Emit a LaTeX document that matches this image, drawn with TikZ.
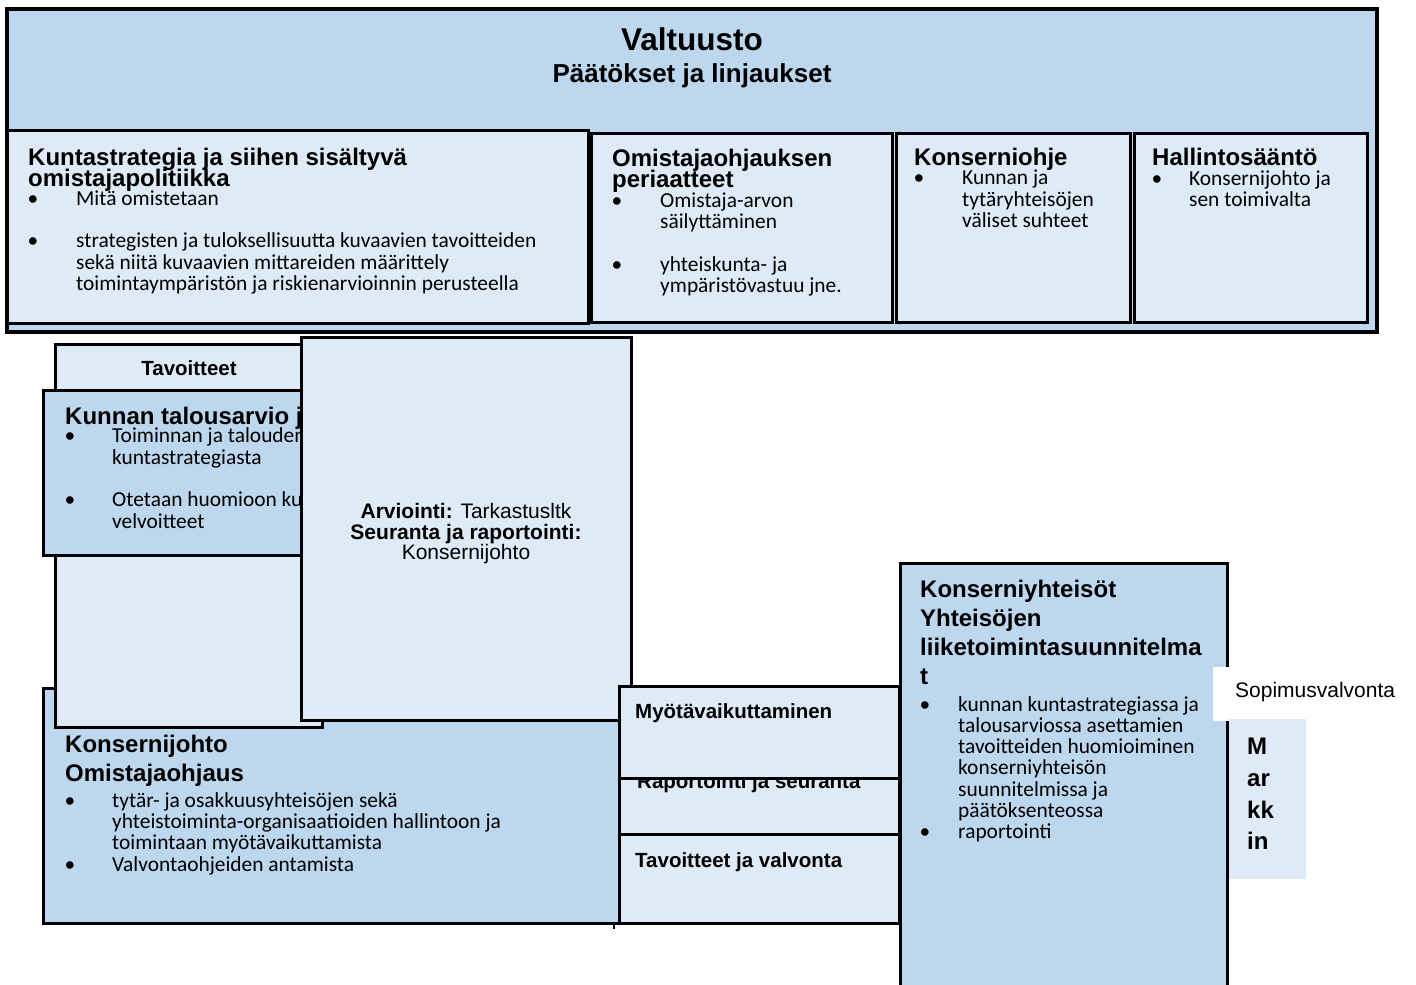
\documentclass[tikz,border=0pt]{standalone}
\usepackage{fontspec}
\setmainfont{Liberation Sans}
\newfontfamily\calib{Carlito}
\usetikzlibrary{fit}
\definecolor{dblue}{HTML}{BDD7EE}
\definecolor{lblue}{HTML}{DEEBF7}
\tikzset{
  box/.style={draw=black, line width=3pt, inner sep=0pt, outer sep=0pt},
  dark/.style={box, fill=dblue},
  light/.style={box, fill=lblue},
  ttl/.style={font=\fontsize{24}{24}\selectfont\bfseries, inner sep=0pt, anchor=base west},
  lbl/.style={font=\fontsize{20.5}{20.5}\selectfont\bfseries, inner sep=0pt, anchor=base west},
  bt/.style={font=\calib\fontsize{21.4}{21.4}\selectfont, inner sep=0pt, anchor=base west},
  bul/.style={font=\calib\fontsize{21.4}{21.4}\selectfont, inner sep=0pt, anchor=base},
  ar/.style={font=\fontsize{21}{21}\selectfont, inner sep=0pt, anchor=base},
}
\begin{document}
\begin{tikzpicture}[x=1pt,y=-1pt]
\useasboundingbox (0,0) rectangle (1416,985);
\fill[white] (0,0) rectangle (1416,985);
\clip (0,0) rectangle (1416,985);
% Valtuusto
\node[dark, line width=3.5pt, fit={(7,9) (1377,332)}] (valt) {};
\node[font=\fontsize{31.5}{31.5}\selectfont\bfseries, inner sep=0pt, anchor=base] (valtT) at (692,50) {Valtuusto};
\node[font=\fontsize{26}{26}\selectfont\bfseries, inner sep=0pt, anchor=base] (valtS) at (692,82) {Päätökset ja linjaukset};
% Kuntastrategia
\node[light, fit={(7,130) (588,323)}] (kunta) {};
\node[ttl] (kuntaT1) at (28,165) {Kuntastrategia ja siihen sisältyvä};
\node[ttl] (kuntaT2) at (28,186) {omistajapolitiikka};
\node[bul] (kuntaB1) at (33,205) {•};
\node[bt] (kuntaL1) at (76,205) {Mitä omistetaan};
\node[bul] (kuntaB2) at (33,247) {•};
\node[bt] (kuntaL2) at (76,247) {strategisten ja tuloksellisuutta kuvaavien tavoitteiden};
\node[bt] (kuntaL3) at (76,269) {sekä niitä kuvaavien mittareiden määrittely};
\node[bt] (kuntaL4) at (76,290) {toimintaympäristön ja riskienarvioinnin perusteella};
% Omistajaohjauksen periaatteet
\node[light, fit={(591,133) (892,322)}] (omist) {};
\node[ttl] (omistT1) at (612,166) {Omistajaohjauksen};
\node[ttl] (omistT2) at (612,187) {periaatteet};
\node[bul] (omistB1) at (617,207) {•};
\node[bt] (omistL1) at (660,207) {Omistaja-arvon};
\node[bt] (omistL2) at (660,228) {säilyttäminen};
\node[bul] (omistB2) at (617,271) {•};
\node[bt] (omistL3) at (660,271) {yhteiskunta- ja};
\node[bt] (omistL4) at (660,292) {ympäristövastuu jne.};
% Konserniohje
\node[light, fit={(896,133) (1130,322)}] (kons) {};
\node[ttl] (konsT) at (914,165) {Konserniohje};
\node[bul] (konsB) at (919,184) {•};
\node[bt] (konsL1) at (962,184) {Kunnan ja};
\node[bt] (konsL2) at (962,206) {tytäryhteisöjen};
\node[bt] (konsL3) at (962,227) {väliset suhteet};
% Hallintosääntö
\node[light, fit={(1134,133) (1367,322)}] (hall) {};
\node[ttl] (hallT) at (1152,165) {Hallintosääntö};
\node[bul] (hallB) at (1157,185) {•};
\node[bt] (hallL1) at (1189,185) {Konsernijohto ja};
\node[bt] (hallL2) at (1189,206) {sen toimivalta};
% Konsernijohto
\node[dark, fit={(43,688) (619,923)}] (kjoh) {};
\node[ttl] (kjohT1) at (65,752) {Konsernijohto};
\node[ttl] (kjohT2) at (65,781) {Omistajaohjaus};
\node[bul] (kjohB1) at (70,807) {•};
\node[bt] (kjohL1) at (112,807) {tytär- ja osakkuusyhteisöjen sekä};
\node[bt] (kjohL2) at (112,828) {yhteistoiminta-organisaatioiden hallintoon ja};
\node[bt] (kjohL3) at (112,849) {toimintaan myötävaikuttamista};
\node[bul] (kjohB2) at (70,871) {•};
\node[bt] (kjohL4) at (112,871) {Valvontaohjeiden antamista};
\coordinate (tickA) at (614,923);
\coordinate (tickB) at (614,929);
\draw[line width=2pt] (tickA) -- (tickB);
% Tavoitteet
\node[light, fit={(55,344) (322,727)}] (tav) {};
\node[lbl, anchor=base] (tavT) at (189,375) {Tavoitteet};
% Kunnan talousarvio
\node[dark, fit={(43,390) (310,555)}] (kunnan) {};
\node[ttl] (kunnanT) at (65,424) {Kunnan talousarvio ja};
\node[bul] (kunnanB1) at (70,442) {•};
\node[bt] (kunnanL1) at (112,442) {Toiminnan ja talouden};
\node[bt] (kunnanL2) at (112,464) {kuntastrategiasta};
\node[bul] (kunnanB2) at (70,506) {•};
\node[bt] (kunnanL3) at (112,506) {Otetaan huomioon ku};
\node[bt] (kunnanL4) at (112,528) {velvoitteet};
% Arviointi
\node[light, fit={(301,337) (631,720)}] (arvi) {};
\node[ar] (arviL1) at (466,518) {\textbf{Arviointi:} Tarkastusltk};
\node[ar] (arviL2) at (466,539) {\textbf{Seuranta ja raportointi:}};
\node[ar] (arviL3) at (466,559) {Konsernijohto};
% Middle boxes
\node[light, fit={(619,778) (899,834)}] (rap) {};
\node[lbl] (rapT) at (637,788) {Raportointi ja seuranta};
\node[light, fit={(619,686) (899,778)}] (myot) {};
\node[lbl] (myotT) at (635,718) {Myötävaikuttaminen};
\node[light, fit={(619,834) (899,923)}] (tavval) {};
\node[lbl] (tavvalT) at (635,867) {Tavoitteet ja valvonta};
% Konserniyhteisöt
\node[dark, fit={(900,563) (1227,1000)}] (ky) {};
\node[ttl] (kyT1) at (920,597) {Konserniyhteisöt};
\node[ttl] (kyT2) at (920,626) {Yhteisöjen};
\node[ttl] (kyT3) at (920,655) {liiketoimintasuunnitelma};
\node[ttl] (kyT4) at (920,684) {t};
\node[bul] (kyB1) at (925,711) {•};
\node[bt] (kyL1) at (958,711) {kunnan kuntastrategiassa ja};
\node[bt] (kyL2) at (958,732) {talousarviossa asettamien};
\node[bt] (kyL3) at (958,753) {tavoitteiden huomioiminen};
\node[bt] (kyL4) at (958,774) {konserniyhteisön};
\node[bt] (kyL5) at (958,796) {suunnitelmissa ja};
\node[bt] (kyL6) at (958,817) {päätöksenteossa};
\node[bul] (kyB2) at (925,838) {•};
\node[bt] (kyL7) at (958,838) {raportointi};
% Sopimusvalvonta
\node[fill=white, inner sep=0pt, fit={(1213,667) (1416,721)}] (sop) {};
\node[ar, anchor=base west] (sopT) at (1235,697) {Sopimusvalvonta};
% Markkin
\node[fill=lblue, inner sep=0pt, fit={(1229,719) (1306,879)}] (mark) {};
\node[ttl] (markL1) at (1247,754) {M};
\node[ttl] (markL2) at (1247,786) {ar};
\node[ttl] (markL3) at (1247,818) {kk};
\node[ttl] (markL4) at (1247,849) {in};
\end{tikzpicture}
\end{document}
